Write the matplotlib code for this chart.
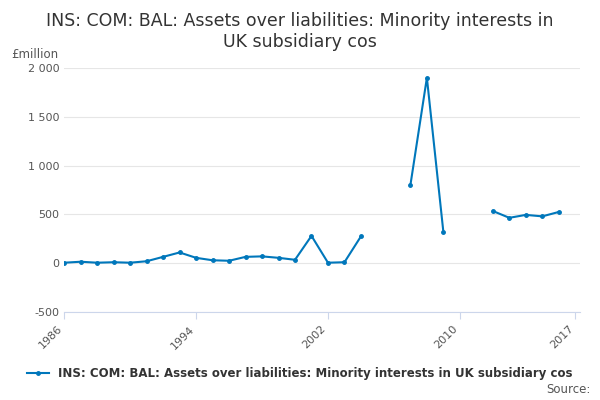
import matplotlib
matplotlib.use("Agg")
import matplotlib.pyplot as plt
import numpy as np

years = list(range(1986, 2017))
values = [5, 15, 5, 10, 5, 20, 65, 110, 55, 30, 25, 65, 70, 55, 35, 280, 5, 10, 275,
          np.nan, np.nan, 800, 1900, 320, np.nan, np.nan, 535, 465, 495, 480, 525]
xticks = [1986, 1994, 2002, 2010, 2017]
yticks = [-500, 0, 500, 1000, 1500, 2000]
ylabels = ["-500", "0", "500", "1 000", "1 500", "2 000"]
color = "#0077bb"

fig = plt.figure(figsize=(6, 4), dpi=100)
ax = fig.add_axes([0.107, 0.22, 0.86, 0.61])
ax.plot(years, values, color=color, lw=1.5, marker="o", ms=2.5)
ax.set_xlim(1986, 2017.3)
ax.set_ylim(-500, 2000)
ax.set_xticks(xticks)
ax.set_xticklabels([str(t) for t in xticks], rotation=45, ha="right", fontsize=8, color="#555")
ax.set_yticks(yticks)
ax.set_yticklabels(ylabels, fontsize=8, color="#555")
ax.grid(axis="y", color="#e6e6e6", lw=0.8)
for s in ["top", "right", "left"]:
    ax.spines[s].set_visible(False)
ax.spines["bottom"].set_color("#ccd6eb")
ax.tick_params(axis="y", length=0)
ax.tick_params(axis="x", color="#ccd6eb", length=5)
fig.text(0.5, 0.97, "INS: COM: BAL: Assets over liabilities: Minority interests in\nUK subsidiary cos",
         ha="center", va="top", fontsize=12.5, color="#333")
fig.text(0.018, 0.855, "£million", fontsize=8.5, color="#555")
ax.plot([], [], color=color, lw=1.5, marker="o", ms=2.5,
        label="INS: COM: BAL: Assets over liabilities: Minority interests in UK subsidiary cos")
leg = fig.legend(loc="center", bbox_to_anchor=(0.5, 0.065), frameon=False, fontsize=8.5,
                 handlelength=1.8)
for t in leg.get_texts():
    t.set_fontweight("bold"); t.set_color("#333")
fig.text(0.985, 0.01, "Source:", ha="right", va="bottom", fontsize=8.5, color="#555")
fig.savefig("out.png")
